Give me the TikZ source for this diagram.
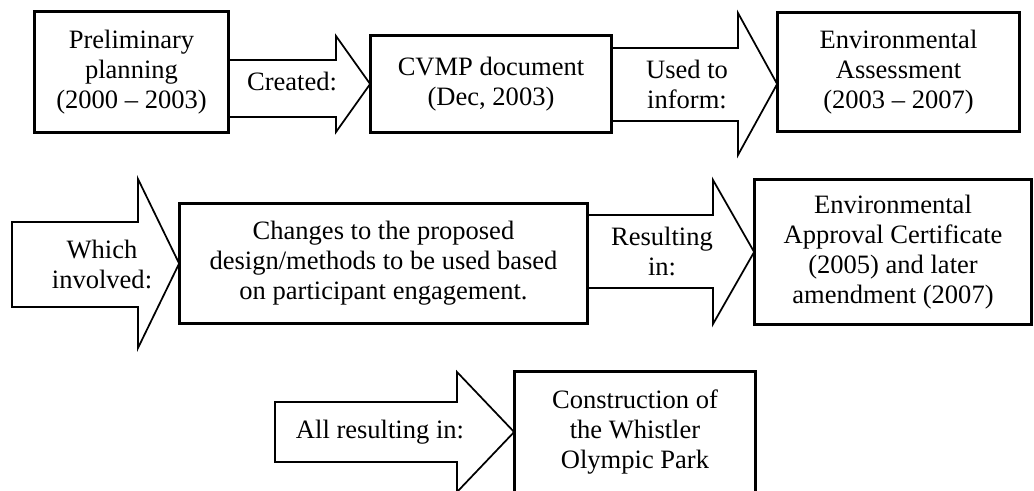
\documentclass[tikz,border=0pt]{standalone}
\usepackage{fontspec}
\setmainfont{Liberation Serif}
\begin{document}
\begin{tikzpicture}[x=0.75pt,y=-0.75pt,
  every node/.style={font=\fontsize{19.9}{22.5}\selectfont},
  box/.style={draw,line width=1.3pt,align=center,inner sep=0pt,fill=white},
  blk/.style={draw,line width=1.3pt,line join=miter,fill=white},
  lbl/.style={align=center,inner sep=0pt}]
\useasboundingbox (0,0) rectangle (1034,490);
\clip (0,0) rectangle (1034,490);
% boxes
\node[box,minimum width=193*0.75pt,minimum height=120*0.75pt] (b1) at (131.5,72)
  {Preliminary\\planning\\(2000 -- 2003)};
\node[box,minimum width=240*0.75pt,minimum height=96*0.75pt] (b2) at (491,84)
  {CVMP document\\(Dec, 2003)};
\node[box,minimum width=241*0.75pt,minimum height=118*0.75pt] (b3) at (898.5,72)
  {Environmental\\Assessment\\(2003 -- 2007)};
\node[box,minimum width=407*0.75pt,minimum height=119*0.75pt] (b4) at (383.5,263.5)
  {Changes to the proposed\\design/methods to be used based\\on participant engagement.};
\node[box,minimum width=276*0.75pt,minimum height=144*0.75pt] (b5) at (893,252)
  {Environmental\\Approval Certificate\\(2005) and later\\amendment (2007)};
\node[box,minimum width=240*0.75pt,minimum height=120*0.75pt] (b6) at (635,432)
  {Construction of\\the Whistler\\Olympic Park};
% block arrows
\draw[blk] (b1.east |- 0,60) -- (336,60) -- (336,36) -- (b2.west) -- (336,132) -- (336,117) -- (b1.east |- 0,117);
\coordinate (t2) at (b3.west |- 0,84);
\draw[blk] (b2.east |- 0,48) -- (738,48) -- (738,13) -- (t2) -- (738,155) -- (738,121) -- (b2.east |- 0,121) -- cycle;
\coordinate (s3) at (12,263.5);
\draw[blk] (s3 |- 0,222) -- (138,222) -- (138,179) -- (b4.west) -- (138,348) -- (138,307) -- (s3 |- 0,307) -- cycle;
\draw[blk] (b4.east |- 0,215) -- (713,215) -- (713,180) -- (b5.west) -- (713,324) -- (713,288) -- (b4.east |- 0,288) -- cycle;
\coordinate (s5) at (275,432);
\draw[blk] (s5 |- 0,402) -- (457,402) -- (457,372) -- (b6.west) -- (457,492) -- (457,462) -- (s5 |- 0,462) -- cycle;
% redraw box outlines on top
\foreach \b in {b1,b2,b3,b4,b5,b6} \draw[line width=1.3pt] (\b.north west) rectangle (\b.south east);
% arrow labels
\node[lbl] (l1) at (292,81) {Created:};
\node[lbl] (l2) at (687,84) {Used to\\inform:};
\node[lbl] (l3) at (102,264) {Which\\involved:};
\node[lbl] (l4) at (662,251) {Resulting\\in:};
\node[lbl] (l5) at (380,432) {All resulting in:};
\end{tikzpicture}
\end{document}
